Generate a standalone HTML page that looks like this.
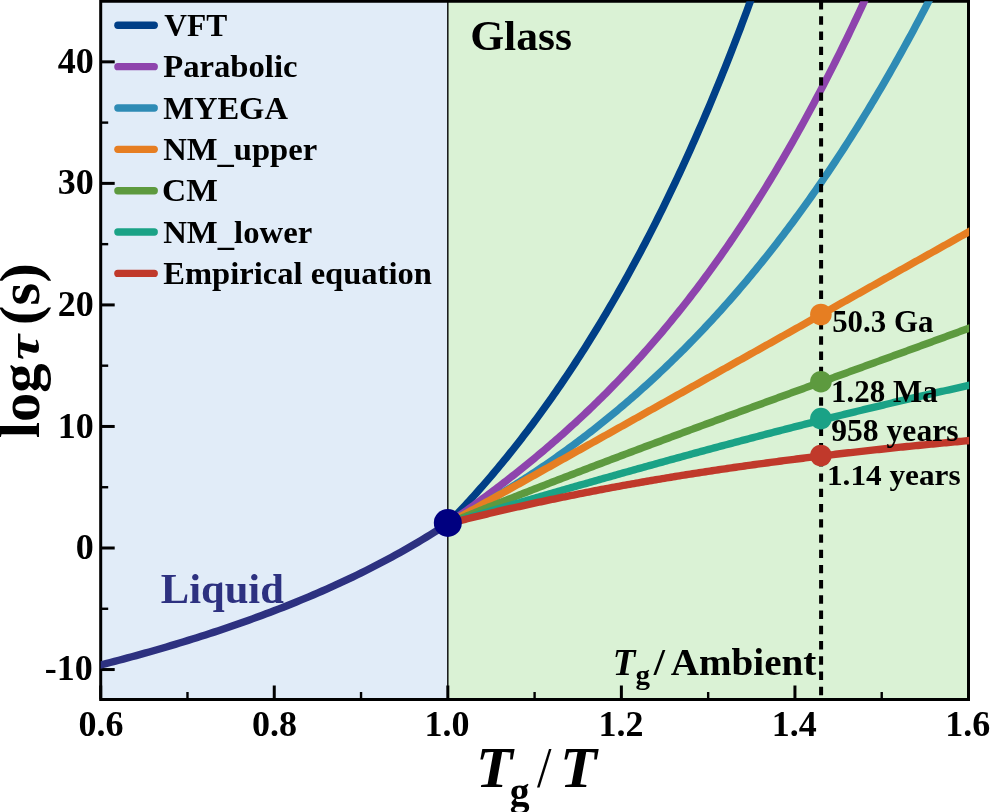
<!DOCTYPE html>
<html><head><meta charset="utf-8"><title>Relaxation time vs Tg/T</title>
<style>
html,body{margin:0;padding:0;background:#fff;}
body{width:990px;height:812px;overflow:hidden;}
svg{display:block;}
text{font-family:"Liberation Serif","DejaVu Serif",serif;font-weight:bold;}
</style></head><body>
<svg width="990" height="812" viewBox="0 0 990 812">
<defs><clipPath id="ax"><rect x="100.70" y="1.25" width="868.50" height="698.25"/></clipPath></defs>
<rect x="0" y="0" width="990" height="812" fill="#fff"/>
<rect x="100.70" y="1.25" width="347.12" height="698.25" fill="#e1ecf8"/>
<rect x="447.82" y="1.25" width="520.68" height="698.25" fill="#daf2d5"/>
<rect x="100.70" y="1.25" width="867.80" height="698.25" fill="none" stroke="#000" stroke-width="3"/>
<line x1="100.70" y1="699.50" x2="100.70" y2="685.50" stroke="#000" stroke-width="3"/>
<line x1="274.26" y1="699.50" x2="274.26" y2="685.50" stroke="#000" stroke-width="3"/>
<line x1="447.82" y1="699.50" x2="447.82" y2="685.50" stroke="#000" stroke-width="3"/>
<line x1="621.38" y1="699.50" x2="621.38" y2="685.50" stroke="#000" stroke-width="3"/>
<line x1="794.94" y1="699.50" x2="794.94" y2="685.50" stroke="#000" stroke-width="3"/>
<line x1="968.50" y1="699.50" x2="968.50" y2="685.50" stroke="#000" stroke-width="3"/>
<line x1="187.48" y1="699.50" x2="187.48" y2="692.00" stroke="#000" stroke-width="2.4"/>
<line x1="361.04" y1="699.50" x2="361.04" y2="692.00" stroke="#000" stroke-width="2.4"/>
<line x1="534.60" y1="699.50" x2="534.60" y2="692.00" stroke="#000" stroke-width="2.4"/>
<line x1="708.16" y1="699.50" x2="708.16" y2="692.00" stroke="#000" stroke-width="2.4"/>
<line x1="881.72" y1="699.50" x2="881.72" y2="692.00" stroke="#000" stroke-width="2.4"/>
<line x1="100.70" y1="669.54" x2="114.70" y2="669.54" stroke="#000" stroke-width="3"/>
<line x1="100.70" y1="548.00" x2="114.70" y2="548.00" stroke="#000" stroke-width="3"/>
<line x1="100.70" y1="426.46" x2="114.70" y2="426.46" stroke="#000" stroke-width="3"/>
<line x1="100.70" y1="304.92" x2="114.70" y2="304.92" stroke="#000" stroke-width="3"/>
<line x1="100.70" y1="183.38" x2="114.70" y2="183.38" stroke="#000" stroke-width="3"/>
<line x1="100.70" y1="61.84" x2="114.70" y2="61.84" stroke="#000" stroke-width="3"/>
<line x1="100.70" y1="608.77" x2="108.20" y2="608.77" stroke="#000" stroke-width="2.4"/>
<line x1="100.70" y1="487.23" x2="108.20" y2="487.23" stroke="#000" stroke-width="2.4"/>
<line x1="100.70" y1="365.69" x2="108.20" y2="365.69" stroke="#000" stroke-width="2.4"/>
<line x1="100.70" y1="244.15" x2="108.20" y2="244.15" stroke="#000" stroke-width="2.4"/>
<line x1="100.70" y1="122.61" x2="108.20" y2="122.61" stroke="#000" stroke-width="2.4"/>
<line x1="447.82" y1="1.25" x2="447.82" y2="699.50" stroke="#000" stroke-width="1.4"/>
<g clip-path="url(#ax)" fill="none" stroke-width="7.40" stroke-linejoin="round">
<path d="M97.23,665.86 L101.56,664.76 L105.89,663.65 L110.21,662.53 L114.54,661.40 L118.87,660.25 L123.20,659.10 L127.53,657.94 L131.86,656.76 L136.18,655.57 L140.51,654.38 L144.84,653.17 L149.17,651.95 L153.50,650.71 L157.82,649.47 L162.15,648.21 L166.48,646.94 L170.81,645.66 L175.14,644.37 L179.47,643.06 L183.79,641.74 L188.12,640.40 L192.45,639.06 L196.78,637.69 L201.11,636.32 L205.44,634.93 L209.76,633.53 L214.09,632.11 L218.42,630.67 L222.75,629.22 L227.08,627.76 L231.41,626.28 L235.73,624.78 L240.06,623.27 L244.39,621.74 L248.72,620.20 L253.05,618.63 L257.38,617.05 L261.70,615.45 L266.03,613.84 L270.36,612.20 L274.69,610.55 L279.02,608.87 L283.35,607.18 L287.67,605.47 L292.00,603.73 L296.33,601.98 L300.66,600.20 L304.99,598.41 L309.31,596.59 L313.64,594.75 L317.97,592.88 L322.30,590.99 L326.63,589.08 L330.96,587.15 L335.28,585.19 L339.61,583.20 L343.94,581.19 L348.27,579.15 L352.60,577.08 L356.93,574.99 L361.25,572.86 L365.58,570.71 L369.91,568.53 L374.24,566.32 L378.57,564.08 L382.90,561.81 L387.22,559.51 L391.55,557.18 L395.88,554.81 L400.21,552.41 L404.54,549.98 L408.87,547.51 L413.19,545.01 L417.52,542.47 L421.85,539.90 L426.18,537.29 L430.51,534.65 L434.84,531.96 L439.16,529.25 L443.49,526.49 L447.82,523.69" stroke="#2d3180"/>
<path d="M447.82,523.69 L449.99,521.46 L452.15,519.21 L454.32,516.95 L456.48,514.67 L458.65,512.38 L460.82,510.07 L462.98,507.74 L465.15,505.40 L467.31,503.05 L469.48,500.68 L471.65,498.29 L473.81,495.88 L475.98,493.46 L478.14,491.03 L480.31,488.57 L482.47,486.10 L484.64,483.61 L486.81,481.11 L488.97,478.59 L491.14,476.05 L493.30,473.50 L495.47,470.92 L497.64,468.33 L499.80,465.73 L501.97,463.10 L504.13,460.46 L506.30,457.80 L508.47,455.12 L510.63,452.42 L512.80,449.71 L514.96,446.97 L517.13,444.22 L519.30,441.45 L521.46,438.66 L523.63,435.85 L525.79,433.02 L527.96,430.18 L530.12,427.31 L532.29,424.42 L534.46,421.52 L536.62,418.59 L538.79,415.65 L540.95,412.68 L543.12,409.69 L545.29,406.69 L547.45,403.66 L549.62,400.61 L551.78,397.54 L553.95,394.45 L556.12,391.34 L558.28,388.21 L560.45,385.06 L562.61,381.88 L564.78,378.69 L566.95,375.47 L569.11,372.23 L571.28,368.96 L573.44,365.68 L575.61,362.37 L577.77,359.04 L579.94,355.68 L582.11,352.31 L584.27,348.91 L586.44,345.48 L588.60,342.03 L590.77,338.56 L592.94,335.07 L595.10,331.55 L597.27,328.00 L599.43,324.43 L601.60,320.84 L603.77,317.22 L605.93,313.58 L608.10,309.91 L610.26,306.21 L612.43,302.49 L614.60,298.74 L616.76,294.97 L618.93,291.17 L621.09,287.34 L623.26,283.49 L625.42,279.61 L627.59,275.70 L629.76,271.77 L631.92,267.80 L634.09,263.81 L636.25,259.80 L638.42,255.75 L640.59,251.67 L642.75,247.57 L644.92,243.43 L647.08,239.27 L649.25,235.08 L651.42,230.85 L653.58,226.60 L655.75,222.32 L657.91,218.00 L660.08,213.66 L662.25,209.28 L664.41,204.88 L666.58,200.44 L668.74,195.97 L670.91,191.46 L673.08,186.93 L675.24,182.36 L677.41,177.76 L679.57,173.12 L681.74,168.46 L683.90,163.75 L686.07,159.02 L688.24,154.25 L690.40,149.44 L692.57,144.60 L694.73,139.72 L696.90,134.81 L699.07,129.86 L701.23,124.88 L703.40,119.86 L705.56,114.80 L707.73,109.71 L709.90,104.57 L712.06,99.40 L714.23,94.19 L716.39,88.95 L718.56,83.66 L720.73,78.33 L722.89,72.97 L725.06,67.56 L727.22,62.11 L729.39,56.62 L731.55,51.10 L733.72,45.52 L735.89,39.91 L738.05,34.26 L740.22,28.56 L742.38,22.82 L744.55,17.03 L746.72,11.20 L748.88,5.33 L751.05,-0.59 L753.21,-6.55 L755.38,-12.56 L757.55,-18.62 L759.71,-24.72 L761.88,-30.87 L764.04,-37.06 L766.21,-43.31 L768.38,-49.60 L770.54,-55.94 L772.71,-62.34 L774.87,-68.78 L777.04,-75.27 L779.20,-81.81 L781.37,-88.41 L783.54,-95.05 L785.70,-101.75 L787.87,-108.50 L790.03,-115.31 L792.20,-122.17 L794.37,-129.08 L796.53,-136.05 L798.70,-143.08 L800.86,-150.16 L803.03,-157.30 L805.20,-164.49 L807.36,-171.74 L809.53,-179.06 L811.69,-186.43 L813.86,-193.86 L816.03,-201.35 L818.19,-208.91 L820.36,-216.52 L822.52,-224.20 L824.69,-231.94 L826.85,-239.74 L829.02,-247.61 L831.19,-255.55 L833.35,-263.55 L835.52,-271.62 L837.68,-279.75 L839.85,-287.95 L842.02,-296.22 L844.18,-304.56 L846.35,-312.98 L848.51,-321.46 L850.68,-330.01 L852.85,-338.64 L855.01,-347.34 L857.18,-356.12 L859.34,-364.97 L861.51,-373.90 L863.68,-382.90 L865.84,-391.98 L868.01,-401.14 L870.17,-410.38 L872.34,-419.70 L874.51,-429.10 L876.67,-438.59 L878.84,-448.16 L881.00,-457.81 L883.17,-467.55 L885.33,-477.37 L887.50,-487.29 L889.67,-497.29 L891.83,-507.38 L894.00,-517.56 L896.16,-527.83 L898.33,-538.20 L900.50,-548.66 L902.66,-559.21 L904.83,-569.86 L906.99,-580.61 L909.16,-591.46 L911.33,-602.41 L913.49,-613.46 L915.66,-624.61 L917.82,-635.86 L919.99,-647.22 L922.16,-658.69 L924.32,-670.26 L926.49,-681.95 L928.65,-693.74 L930.82,-705.65 L932.98,-717.67 L935.15,-729.80 L937.32,-742.05 L939.48,-754.42 L941.65,-766.91 L943.81,-779.52 L945.98,-792.25 L948.15,-805.11 L950.31,-818.09 L952.48,-831.20 L954.64,-844.44 L956.81,-857.82 L958.98,-871.32 L961.14,-884.96 L963.31,-898.74 L965.47,-912.65 L967.64,-926.71 L969.81,-940.91 L971.97,-955.25" stroke="#003f87"/>
<path d="M447.82,523.69 L449.99,522.18 L452.15,520.66 L454.32,519.13 L456.48,517.61 L458.65,516.07 L460.82,514.53 L462.98,512.99 L465.15,511.44 L467.31,509.88 L469.48,508.32 L471.65,506.76 L473.81,505.19 L475.98,503.61 L478.14,502.02 L480.31,500.43 L482.47,498.84 L484.64,497.23 L486.81,495.62 L488.97,494.01 L491.14,492.38 L493.30,490.75 L495.47,489.12 L497.64,487.47 L499.80,485.82 L501.97,484.16 L504.13,482.49 L506.30,480.82 L508.47,479.14 L510.63,477.45 L512.80,475.75 L514.96,474.04 L517.13,472.33 L519.30,470.60 L521.46,468.87 L523.63,467.13 L525.79,465.38 L527.96,463.62 L530.12,461.85 L532.29,460.08 L534.46,458.29 L536.62,456.49 L538.79,454.69 L540.95,452.87 L543.12,451.05 L545.29,449.21 L547.45,447.37 L549.62,445.51 L551.78,443.65 L553.95,441.77 L556.12,439.88 L558.28,437.98 L560.45,436.08 L562.61,434.16 L564.78,432.22 L566.95,430.28 L569.11,428.33 L571.28,426.36 L573.44,424.39 L575.61,422.40 L577.77,420.40 L579.94,418.39 L582.11,416.36 L584.27,414.33 L586.44,412.28 L588.60,410.21 L590.77,408.14 L592.94,406.05 L595.10,403.95 L597.27,401.84 L599.43,399.71 L601.60,397.58 L603.77,395.42 L605.93,393.26 L608.10,391.08 L610.26,388.88 L612.43,386.68 L614.60,384.45 L616.76,382.22 L618.93,379.97 L621.09,377.70 L623.26,375.43 L625.42,373.13 L627.59,370.82 L629.76,368.50 L631.92,366.16 L634.09,363.81 L636.25,361.44 L638.42,359.06 L640.59,356.66 L642.75,354.24 L644.92,351.81 L647.08,349.36 L649.25,346.90 L651.42,344.42 L653.58,341.92 L655.75,339.41 L657.91,336.88 L660.08,334.34 L662.25,331.78 L664.41,329.20 L666.58,326.60 L668.74,323.99 L670.91,321.36 L673.08,318.71 L675.24,316.04 L677.41,313.36 L679.57,310.66 L681.74,307.94 L683.90,305.20 L686.07,302.45 L688.24,299.68 L690.40,296.88 L692.57,294.07 L694.73,291.25 L696.90,288.40 L699.07,285.53 L701.23,282.64 L703.40,279.74 L705.56,276.82 L707.73,273.87 L709.90,270.91 L712.06,267.92 L714.23,264.92 L716.39,261.90 L718.56,258.86 L720.73,255.79 L722.89,252.71 L725.06,249.61 L727.22,246.48 L729.39,243.34 L731.55,240.17 L733.72,236.98 L735.89,233.77 L738.05,230.55 L740.22,227.29 L742.38,224.02 L744.55,220.73 L746.72,217.41 L748.88,214.08 L751.05,210.72 L753.21,207.34 L755.38,203.93 L757.55,200.51 L759.71,197.06 L761.88,193.59 L764.04,190.09 L766.21,186.58 L768.38,183.04 L770.54,179.48 L772.71,175.89 L774.87,172.28 L777.04,168.65 L779.20,164.99 L781.37,161.31 L783.54,157.61 L785.70,153.88 L787.87,150.13 L790.03,146.35 L792.20,142.55 L794.37,138.73 L796.53,134.88 L798.70,131.00 L800.86,127.10 L803.03,123.18 L805.20,119.23 L807.36,115.26 L809.53,111.26 L811.69,107.23 L813.86,103.18 L816.03,99.10 L818.19,95.00 L820.36,90.87 L822.52,86.72 L824.69,82.54 L826.85,78.33 L829.02,74.10 L831.19,69.84 L833.35,65.55 L835.52,61.23 L837.68,56.89 L839.85,52.53 L842.02,48.13 L844.18,43.71 L846.35,39.26 L848.51,34.78 L850.68,30.27 L852.85,25.74 L855.01,21.18 L857.18,16.59 L859.34,11.97 L861.51,7.32 L863.68,2.65 L865.84,-2.05 L868.01,-6.79 L870.17,-11.55 L872.34,-16.34 L874.51,-21.16 L876.67,-26.01 L878.84,-30.88 L881.00,-35.79 L883.17,-40.73 L885.33,-45.70 L887.50,-50.69 L889.67,-55.72 L891.83,-60.78 L894.00,-65.86 L896.16,-70.98 L898.33,-76.13 L900.50,-81.31 L902.66,-86.52 L904.83,-91.76 L906.99,-97.03 L909.16,-102.33 L911.33,-107.67 L913.49,-113.03 L915.66,-118.43 L917.82,-123.86 L919.99,-129.32 L922.16,-134.81 L924.32,-140.34 L926.49,-145.89 L928.65,-151.48 L930.82,-157.10 L932.98,-162.76 L935.15,-168.44 L937.32,-174.16 L939.48,-179.92 L941.65,-185.70 L943.81,-191.52 L945.98,-197.37 L948.15,-203.26 L950.31,-209.18 L952.48,-215.13 L954.64,-221.11 L956.81,-227.13 L958.98,-233.19 L961.14,-239.28 L963.31,-245.40 L965.47,-251.56 L967.64,-257.75 L969.81,-263.98 L971.97,-270.24" stroke="#8e44ad"/>
<path d="M447.82,523.31 L449.99,522.18 L452.15,521.05 L454.32,519.90 L456.48,518.75 L458.65,517.59 L460.82,516.43 L462.98,515.25 L465.15,514.07 L467.31,512.89 L469.48,511.69 L471.65,510.49 L473.81,509.28 L475.98,508.06 L478.14,506.84 L480.31,505.61 L482.47,504.37 L484.64,503.12 L486.81,501.87 L488.97,500.60 L491.14,499.33 L493.30,498.06 L495.47,496.77 L497.64,495.48 L499.80,494.18 L501.97,492.87 L504.13,491.55 L506.30,490.22 L508.47,488.89 L510.63,487.55 L512.80,486.20 L514.96,484.84 L517.13,483.47 L519.30,482.10 L521.46,480.72 L523.63,479.33 L525.79,477.93 L527.96,476.52 L530.12,475.10 L532.29,473.68 L534.46,472.24 L536.62,470.80 L538.79,469.35 L540.95,467.89 L543.12,466.42 L545.29,464.94 L547.45,463.45 L549.62,461.96 L551.78,460.45 L553.95,458.94 L556.12,457.41 L558.28,455.88 L560.45,454.34 L562.61,452.79 L564.78,451.23 L566.95,449.66 L569.11,448.08 L571.28,446.49 L573.44,444.89 L575.61,443.28 L577.77,441.66 L579.94,440.03 L582.11,438.40 L584.27,436.75 L586.44,435.09 L588.60,433.42 L590.77,431.75 L592.94,430.06 L595.10,428.36 L597.27,426.65 L599.43,424.93 L601.60,423.21 L603.77,421.47 L605.93,419.72 L608.10,417.96 L610.26,416.19 L612.43,414.41 L614.60,412.61 L616.76,410.81 L618.93,409.00 L621.09,407.17 L623.26,405.34 L625.42,403.49 L627.59,401.64 L629.76,399.77 L631.92,397.89 L634.09,396.00 L636.25,394.10 L638.42,392.18 L640.59,390.26 L642.75,388.32 L644.92,386.38 L647.08,384.42 L649.25,382.45 L651.42,380.46 L653.58,378.47 L655.75,376.46 L657.91,374.44 L660.08,372.41 L662.25,370.37 L664.41,368.32 L666.58,366.25 L668.74,364.17 L670.91,362.08 L673.08,359.97 L675.24,357.86 L677.41,355.73 L679.57,353.59 L681.74,351.43 L683.90,349.27 L686.07,347.09 L688.24,344.89 L690.40,342.69 L692.57,340.47 L694.73,338.24 L696.90,335.99 L699.07,333.73 L701.23,331.46 L703.40,329.18 L705.56,326.88 L707.73,324.56 L709.90,322.24 L712.06,319.90 L714.23,317.55 L716.39,315.18 L718.56,312.80 L720.73,310.40 L722.89,307.99 L725.06,305.57 L727.22,303.13 L729.39,300.68 L731.55,298.21 L733.72,295.73 L735.89,293.23 L738.05,290.72 L740.22,288.19 L742.38,285.65 L744.55,283.10 L746.72,280.53 L748.88,277.94 L751.05,275.34 L753.21,272.73 L755.38,270.09 L757.55,267.45 L759.71,264.79 L761.88,262.11 L764.04,259.41 L766.21,256.70 L768.38,253.98 L770.54,251.24 L772.71,248.48 L774.87,245.71 L777.04,242.92 L779.20,240.11 L781.37,237.29 L783.54,234.45 L785.70,231.59 L787.87,228.72 L790.03,225.83 L792.20,222.93 L794.37,220.00 L796.53,217.06 L798.70,214.11 L800.86,211.13 L803.03,208.14 L805.20,205.13 L807.36,202.10 L809.53,199.06 L811.69,196.00 L813.86,192.92 L816.03,189.82 L818.19,186.70 L820.36,183.57 L822.52,180.42 L824.69,177.25 L826.85,174.06 L829.02,170.85 L831.19,167.62 L833.35,164.38 L835.52,161.11 L837.68,157.83 L839.85,154.53 L842.02,151.21 L844.18,147.87 L846.35,144.51 L848.51,141.13 L850.68,137.73 L852.85,134.31 L855.01,130.87 L857.18,127.41 L859.34,123.93 L861.51,120.44 L863.68,116.92 L865.84,113.38 L868.01,109.82 L870.17,106.24 L872.34,102.64 L874.51,99.02 L876.67,95.37 L878.84,91.71 L881.00,88.02 L883.17,84.32 L885.33,80.59 L887.50,76.84 L889.67,73.07 L891.83,69.28 L894.00,65.46 L896.16,61.63 L898.33,57.77 L900.50,53.89 L902.66,49.98 L904.83,46.06 L906.99,42.11 L909.16,38.14 L911.33,34.14 L913.49,30.13 L915.66,26.09 L917.82,22.02 L919.99,17.94 L922.16,13.83 L924.32,9.69 L926.49,5.54 L928.65,1.35 L930.82,-2.85 L932.98,-7.08 L935.15,-11.33 L937.32,-15.61 L939.48,-19.92 L941.65,-24.24 L943.81,-28.60 L945.98,-32.97 L948.15,-37.38 L950.31,-41.80 L952.48,-46.26 L954.64,-50.73 L956.81,-55.24 L958.98,-59.77 L961.14,-64.32 L963.31,-68.91 L965.47,-73.51 L967.64,-78.15 L969.81,-82.81 L971.97,-87.50" stroke="#2e8bb5"/>
<path d="M447.82,523.69 L449.99,522.48 L452.15,521.27 L454.32,520.05 L456.48,518.84 L458.65,517.63 L460.82,516.41 L462.98,515.20 L465.15,513.98 L467.31,512.77 L469.48,511.56 L471.65,510.34 L473.81,509.13 L475.98,507.92 L478.14,506.70 L480.31,505.49 L482.47,504.28 L484.64,503.06 L486.81,501.85 L488.97,500.64 L491.14,499.42 L493.30,498.21 L495.47,497.00 L497.64,495.78 L499.80,494.57 L501.97,493.36 L504.13,492.14 L506.30,490.93 L508.47,489.72 L510.63,488.50 L512.80,487.29 L514.96,486.08 L517.13,484.86 L519.30,483.65 L521.46,482.44 L523.63,481.22 L525.79,480.01 L527.96,478.80 L530.12,477.58 L532.29,476.37 L534.46,475.16 L536.62,473.94 L538.79,472.73 L540.95,471.52 L543.12,470.30 L545.29,469.09 L547.45,467.88 L549.62,466.66 L551.78,465.45 L553.95,464.24 L556.12,463.02 L558.28,461.81 L560.45,460.60 L562.61,459.38 L564.78,458.17 L566.95,456.96 L569.11,455.74 L571.28,454.53 L573.44,453.32 L575.61,452.10 L577.77,450.89 L579.94,449.68 L582.11,448.46 L584.27,447.25 L586.44,446.03 L588.60,444.82 L590.77,443.61 L592.94,442.39 L595.10,441.18 L597.27,439.97 L599.43,438.75 L601.60,437.54 L603.77,436.33 L605.93,435.11 L608.10,433.90 L610.26,432.69 L612.43,431.47 L614.60,430.26 L616.76,429.05 L618.93,427.83 L621.09,426.62 L623.26,425.41 L625.42,424.19 L627.59,422.98 L629.76,421.77 L631.92,420.55 L634.09,419.34 L636.25,418.13 L638.42,416.91 L640.59,415.70 L642.75,414.49 L644.92,413.27 L647.08,412.06 L649.25,410.85 L651.42,409.63 L653.58,408.42 L655.75,407.21 L657.91,405.99 L660.08,404.78 L662.25,403.57 L664.41,402.35 L666.58,401.14 L668.74,399.93 L670.91,398.71 L673.08,397.50 L675.24,396.29 L677.41,395.07 L679.57,393.86 L681.74,392.65 L683.90,391.43 L686.07,390.22 L688.24,389.01 L690.40,387.79 L692.57,386.58 L694.73,385.37 L696.90,384.15 L699.07,382.94 L701.23,381.73 L703.40,380.51 L705.56,379.30 L707.73,378.09 L709.90,376.87 L712.06,375.66 L714.23,374.44 L716.39,373.23 L718.56,372.02 L720.73,370.80 L722.89,369.59 L725.06,368.38 L727.22,367.16 L729.39,365.95 L731.55,364.74 L733.72,363.52 L735.89,362.31 L738.05,361.10 L740.22,359.88 L742.38,358.67 L744.55,357.46 L746.72,356.24 L748.88,355.03 L751.05,353.82 L753.21,352.60 L755.38,351.39 L757.55,350.18 L759.71,348.96 L761.88,347.75 L764.04,346.54 L766.21,345.32 L768.38,344.11 L770.54,342.90 L772.71,341.68 L774.87,340.47 L777.04,339.26 L779.20,338.04 L781.37,336.83 L783.54,335.62 L785.70,334.40 L787.87,333.19 L790.03,331.98 L792.20,330.76 L794.37,329.55 L796.53,328.34 L798.70,327.12 L800.86,325.91 L803.03,324.70 L805.20,323.48 L807.36,322.27 L809.53,321.06 L811.69,319.84 L813.86,318.63 L816.03,317.42 L818.19,316.20 L820.36,314.99 L822.52,313.78 L824.69,312.56 L826.85,311.35 L829.02,310.14 L831.19,308.92 L833.35,307.71 L835.52,306.49 L837.68,305.28 L839.85,304.07 L842.02,302.85 L844.18,301.64 L846.35,300.43 L848.51,299.21 L850.68,298.00 L852.85,296.79 L855.01,295.57 L857.18,294.36 L859.34,293.15 L861.51,291.93 L863.68,290.72 L865.84,289.51 L868.01,288.29 L870.17,287.08 L872.34,285.87 L874.51,284.65 L876.67,283.44 L878.84,282.23 L881.00,281.01 L883.17,279.80 L885.33,278.59 L887.50,277.37 L889.67,276.16 L891.83,274.95 L894.00,273.73 L896.16,272.52 L898.33,271.31 L900.50,270.09 L902.66,268.88 L904.83,267.67 L906.99,266.45 L909.16,265.24 L911.33,264.03 L913.49,262.81 L915.66,261.60 L917.82,260.39 L919.99,259.17 L922.16,257.96 L924.32,256.75 L926.49,255.53 L928.65,254.32 L930.82,253.11 L932.98,251.89 L935.15,250.68 L937.32,249.47 L939.48,248.25 L941.65,247.04 L943.81,245.83 L945.98,244.61 L948.15,243.40 L950.31,242.19 L952.48,240.97 L954.64,239.76 L956.81,238.55 L958.98,237.33 L961.14,236.12 L963.31,234.90 L965.47,233.69 L967.64,232.48 L969.81,231.26 L971.97,230.05" stroke="#e67e22"/>
<path d="M447.82,523.69 L449.99,522.81 L452.15,521.92 L454.32,521.04 L456.48,520.16 L458.65,519.28 L460.82,518.40 L462.98,517.52 L465.15,516.64 L467.31,515.76 L469.48,514.89 L471.65,514.01 L473.81,513.14 L475.98,512.27 L478.14,511.40 L480.31,510.52 L482.47,509.66 L484.64,508.79 L486.81,507.92 L488.97,507.05 L491.14,506.19 L493.30,505.32 L495.47,504.46 L497.64,503.60 L499.80,502.73 L501.97,501.87 L504.13,501.01 L506.30,500.15 L508.47,499.30 L510.63,498.44 L512.80,497.58 L514.96,496.73 L517.13,495.87 L519.30,495.02 L521.46,494.17 L523.63,493.31 L525.79,492.46 L527.96,491.61 L530.12,490.76 L532.29,489.91 L534.46,489.07 L536.62,488.22 L538.79,487.37 L540.95,486.53 L543.12,485.69 L545.29,484.84 L547.45,484.00 L549.62,483.16 L551.78,482.32 L553.95,481.48 L556.12,480.64 L558.28,479.80 L560.45,478.96 L562.61,478.12 L564.78,477.29 L566.95,476.45 L569.11,475.62 L571.28,474.78 L573.44,473.95 L575.61,473.12 L577.77,472.29 L579.94,471.46 L582.11,470.63 L584.27,469.80 L586.44,468.97 L588.60,468.14 L590.77,467.31 L592.94,466.48 L595.10,465.66 L597.27,464.83 L599.43,464.01 L601.60,463.18 L603.77,462.36 L605.93,461.54 L608.10,460.72 L610.26,459.90 L612.43,459.07 L614.60,458.25 L616.76,457.43 L618.93,456.62 L621.09,455.80 L623.26,454.98 L625.42,454.16 L627.59,453.35 L629.76,452.53 L631.92,451.72 L634.09,450.90 L636.25,450.09 L638.42,449.27 L640.59,448.46 L642.75,447.65 L644.92,446.84 L647.08,446.02 L649.25,445.21 L651.42,444.40 L653.58,443.59 L655.75,442.78 L657.91,441.98 L660.08,441.17 L662.25,440.36 L664.41,439.55 L666.58,438.75 L668.74,437.94 L670.91,437.13 L673.08,436.33 L675.24,435.52 L677.41,434.72 L679.57,433.92 L681.74,433.11 L683.90,432.31 L686.07,431.51 L688.24,430.70 L690.40,429.90 L692.57,429.10 L694.73,428.30 L696.90,427.50 L699.07,426.70 L701.23,425.90 L703.40,425.10 L705.56,424.30 L707.73,423.50 L709.90,422.71 L712.06,421.91 L714.23,421.11 L716.39,420.31 L718.56,419.52 L720.73,418.72 L722.89,417.92 L725.06,417.13 L727.22,416.33 L729.39,415.54 L731.55,414.74 L733.72,413.95 L735.89,413.16 L738.05,412.36 L740.22,411.57 L742.38,410.77 L744.55,409.98 L746.72,409.19 L748.88,408.40 L751.05,407.60 L753.21,406.81 L755.38,406.02 L757.55,405.23 L759.71,404.44 L761.88,403.65 L764.04,402.86 L766.21,402.07 L768.38,401.28 L770.54,400.49 L772.71,399.70 L774.87,398.91 L777.04,398.12 L779.20,397.33 L781.37,396.54 L783.54,395.75 L785.70,394.96 L787.87,394.17 L790.03,393.38 L792.20,392.60 L794.37,391.81 L796.53,391.02 L798.70,390.23 L800.86,389.44 L803.03,388.66 L805.20,387.87 L807.36,387.08 L809.53,386.29 L811.69,385.51 L813.86,384.72 L816.03,383.93 L818.19,383.14 L820.36,382.36 L822.52,381.57 L824.69,380.78 L826.85,380.00 L829.02,379.21 L831.19,378.42 L833.35,377.64 L835.52,376.85 L837.68,376.06 L839.85,375.28 L842.02,374.49 L844.18,373.70 L846.35,372.92 L848.51,372.13 L850.68,371.34 L852.85,370.56 L855.01,369.77 L857.18,368.98 L859.34,368.20 L861.51,367.41 L863.68,366.62 L865.84,365.84 L868.01,365.05 L870.17,364.26 L872.34,363.48 L874.51,362.69 L876.67,361.90 L878.84,361.12 L881.00,360.33 L883.17,359.54 L885.33,358.75 L887.50,357.97 L889.67,357.18 L891.83,356.39 L894.00,355.60 L896.16,354.81 L898.33,354.02 L900.50,353.24 L902.66,352.45 L904.83,351.66 L906.99,350.87 L909.16,350.08 L911.33,349.29 L913.49,348.50 L915.66,347.71 L917.82,346.92 L919.99,346.13 L922.16,345.34 L924.32,344.55 L926.49,343.76 L928.65,342.97 L930.82,342.18 L932.98,341.39 L935.15,340.60 L937.32,339.80 L939.48,339.01 L941.65,338.22 L943.81,337.43 L945.98,336.63 L948.15,335.84 L950.31,335.05 L952.48,334.25 L954.64,333.46 L956.81,332.66 L958.98,331.87 L961.14,331.07 L963.31,330.28 L965.47,329.48 L967.64,328.69 L969.81,327.89 L971.97,327.09" stroke="#5d9a3f"/>
<path d="M447.82,523.69 L449.99,523.05 L452.15,522.41 L454.32,521.77 L456.48,521.13 L458.65,520.49 L460.82,519.84 L462.98,519.20 L465.15,518.56 L467.31,517.92 L469.48,517.29 L471.65,516.65 L473.81,516.01 L475.98,515.37 L478.14,514.73 L480.31,514.09 L482.47,513.46 L484.64,512.82 L486.81,512.18 L488.97,511.55 L491.14,510.91 L493.30,510.28 L495.47,509.64 L497.64,509.01 L499.80,508.37 L501.97,507.74 L504.13,507.10 L506.30,506.47 L508.47,505.84 L510.63,505.20 L512.80,504.57 L514.96,503.94 L517.13,503.31 L519.30,502.68 L521.46,502.05 L523.63,501.42 L525.79,500.79 L527.96,500.16 L530.12,499.53 L532.29,498.90 L534.46,498.27 L536.62,497.64 L538.79,497.02 L540.95,496.39 L543.12,495.76 L545.29,495.14 L547.45,494.51 L549.62,493.89 L551.78,493.26 L553.95,492.64 L556.12,492.01 L558.28,491.39 L560.45,490.77 L562.61,490.14 L564.78,489.52 L566.95,488.90 L569.11,488.28 L571.28,487.66 L573.44,487.04 L575.61,486.42 L577.77,485.80 L579.94,485.18 L582.11,484.56 L584.27,483.95 L586.44,483.33 L588.60,482.71 L590.77,482.10 L592.94,481.48 L595.10,480.87 L597.27,480.25 L599.43,479.64 L601.60,479.02 L603.77,478.41 L605.93,477.80 L608.10,477.19 L610.26,476.58 L612.43,475.96 L614.60,475.35 L616.76,474.74 L618.93,474.14 L621.09,473.53 L623.26,472.92 L625.42,472.31 L627.59,471.70 L629.76,471.10 L631.92,470.49 L634.09,469.89 L636.25,469.28 L638.42,468.68 L640.59,468.08 L642.75,467.47 L644.92,466.87 L647.08,466.27 L649.25,465.67 L651.42,465.07 L653.58,464.47 L655.75,463.87 L657.91,463.27 L660.08,462.67 L662.25,462.07 L664.41,461.48 L666.58,460.88 L668.74,460.29 L670.91,459.69 L673.08,459.10 L675.24,458.50 L677.41,457.91 L679.57,457.32 L681.74,456.73 L683.90,456.13 L686.07,455.54 L688.24,454.95 L690.40,454.37 L692.57,453.78 L694.73,453.19 L696.90,452.60 L699.07,452.02 L701.23,451.43 L703.40,450.85 L705.56,450.26 L707.73,449.68 L709.90,449.10 L712.06,448.51 L714.23,447.93 L716.39,447.35 L718.56,446.77 L720.73,446.19 L722.89,445.61 L725.06,445.04 L727.22,444.46 L729.39,443.88 L731.55,443.31 L733.72,442.73 L735.89,442.16 L738.05,441.58 L740.22,441.01 L742.38,440.44 L744.55,439.87 L746.72,439.30 L748.88,438.73 L751.05,438.16 L753.21,437.59 L755.38,437.02 L757.55,436.46 L759.71,435.89 L761.88,435.32 L764.04,434.76 L766.21,434.20 L768.38,433.63 L770.54,433.07 L772.71,432.51 L774.87,431.95 L777.04,431.39 L779.20,430.83 L781.37,430.27 L783.54,429.72 L785.70,429.16 L787.87,428.61 L790.03,428.05 L792.20,427.50 L794.37,426.94 L796.53,426.39 L798.70,425.84 L800.86,425.29 L803.03,424.74 L805.20,424.19 L807.36,423.64 L809.53,423.10 L811.69,422.55 L813.86,422.01 L816.03,421.46 L818.19,420.92 L820.36,420.37 L822.52,419.83 L824.69,419.29 L826.85,418.75 L829.02,418.21 L831.19,417.67 L833.35,417.14 L835.52,416.60 L837.68,416.06 L839.85,415.53 L842.02,415.00 L844.18,414.46 L846.35,413.93 L848.51,413.40 L850.68,412.87 L852.85,412.34 L855.01,411.81 L857.18,411.28 L859.34,410.76 L861.51,410.23 L863.68,409.71 L865.84,409.18 L868.01,408.66 L870.17,408.14 L872.34,407.62 L874.51,407.10 L876.67,406.58 L878.84,406.06 L881.00,405.55 L883.17,405.03 L885.33,404.51 L887.50,404.00 L889.67,403.49 L891.83,402.98 L894.00,402.46 L896.16,401.95 L898.33,401.44 L900.50,400.94 L902.66,400.43 L904.83,399.92 L906.99,399.42 L909.16,398.91 L911.33,398.41 L913.49,397.91 L915.66,397.41 L917.82,396.91 L919.99,396.41 L922.16,395.91 L924.32,395.41 L926.49,394.92 L928.65,394.42 L930.82,393.93 L932.98,393.44 L935.15,392.95 L937.32,392.46 L939.48,391.97 L941.65,391.48 L943.81,390.99 L945.98,390.50 L948.15,390.02 L950.31,389.53 L952.48,389.05 L954.64,388.57 L956.81,388.09 L958.98,387.61 L961.14,387.13 L963.31,386.65 L965.47,386.18 L967.64,385.70 L969.81,385.23 L971.97,384.75" stroke="#1aa286"/>
<path d="M447.82,523.69 L449.99,523.14 L452.15,522.58 L454.32,522.03 L456.48,521.48 L458.65,520.94 L460.82,520.39 L462.98,519.85 L465.15,519.31 L467.31,518.77 L469.48,518.24 L471.65,517.71 L473.81,517.17 L475.98,516.65 L478.14,516.12 L480.31,515.59 L482.47,515.07 L484.64,514.55 L486.81,514.03 L488.97,513.52 L491.14,513.01 L493.30,512.49 L495.47,511.98 L497.64,511.48 L499.80,510.97 L501.97,510.47 L504.13,509.97 L506.30,509.47 L508.47,508.97 L510.63,508.48 L512.80,507.99 L514.96,507.50 L517.13,507.01 L519.30,506.52 L521.46,506.04 L523.63,505.55 L525.79,505.07 L527.96,504.60 L530.12,504.12 L532.29,503.65 L534.46,503.17 L536.62,502.70 L538.79,502.24 L540.95,501.77 L543.12,501.31 L545.29,500.84 L547.45,500.38 L549.62,499.93 L551.78,499.47 L553.95,499.02 L556.12,498.56 L558.28,498.11 L560.45,497.67 L562.61,497.22 L564.78,496.78 L566.95,496.33 L569.11,495.89 L571.28,495.45 L573.44,495.02 L575.61,494.58 L577.77,494.15 L579.94,493.72 L582.11,493.29 L584.27,492.86 L586.44,492.44 L588.60,492.01 L590.77,491.59 L592.94,491.17 L595.10,490.75 L597.27,490.34 L599.43,489.92 L601.60,489.51 L603.77,489.10 L605.93,488.69 L608.10,488.28 L610.26,487.88 L612.43,487.47 L614.60,487.07 L616.76,486.67 L618.93,486.27 L621.09,485.88 L623.26,485.48 L625.42,485.09 L627.59,484.70 L629.76,484.31 L631.92,483.92 L634.09,483.54 L636.25,483.15 L638.42,482.77 L640.59,482.39 L642.75,482.01 L644.92,481.63 L647.08,481.26 L649.25,480.88 L651.42,480.51 L653.58,480.14 L655.75,479.77 L657.91,479.40 L660.08,479.04 L662.25,478.67 L664.41,478.31 L666.58,477.95 L668.74,477.59 L670.91,477.23 L673.08,476.88 L675.24,476.52 L677.41,476.17 L679.57,475.82 L681.74,475.47 L683.90,475.12 L686.07,474.77 L688.24,474.43 L690.40,474.08 L692.57,473.74 L694.73,473.40 L696.90,473.06 L699.07,472.73 L701.23,472.39 L703.40,472.06 L705.56,471.72 L707.73,471.39 L709.90,471.06 L712.06,470.74 L714.23,470.41 L716.39,470.08 L718.56,469.76 L720.73,469.44 L722.89,469.12 L725.06,468.80 L727.22,468.48 L729.39,468.16 L731.55,467.85 L733.72,467.53 L735.89,467.22 L738.05,466.91 L740.22,466.60 L742.38,466.29 L744.55,465.99 L746.72,465.68 L748.88,465.38 L751.05,465.08 L753.21,464.78 L755.38,464.48 L757.55,464.18 L759.71,463.88 L761.88,463.59 L764.04,463.29 L766.21,463.00 L768.38,462.71 L770.54,462.42 L772.71,462.13 L774.87,461.84 L777.04,461.56 L779.20,461.27 L781.37,460.99 L783.54,460.70 L785.70,460.42 L787.87,460.14 L790.03,459.87 L792.20,459.59 L794.37,459.31 L796.53,459.04 L798.70,458.76 L800.86,458.49 L803.03,458.22 L805.20,457.95 L807.36,457.68 L809.53,457.41 L811.69,457.15 L813.86,456.88 L816.03,456.62 L818.19,456.36 L820.36,456.10 L822.52,455.84 L824.69,455.58 L826.85,455.32 L829.02,455.06 L831.19,454.81 L833.35,454.55 L835.52,454.30 L837.68,454.05 L839.85,453.79 L842.02,453.54 L844.18,453.30 L846.35,453.05 L848.51,452.80 L850.68,452.56 L852.85,452.31 L855.01,452.07 L857.18,451.83 L859.34,451.58 L861.51,451.34 L863.68,451.10 L865.84,450.87 L868.01,450.63 L870.17,450.39 L872.34,450.16 L874.51,449.92 L876.67,449.69 L878.84,449.46 L881.00,449.23 L883.17,449.00 L885.33,448.77 L887.50,448.54 L889.67,448.31 L891.83,448.09 L894.00,447.86 L896.16,447.64 L898.33,447.41 L900.50,447.19 L902.66,446.97 L904.83,446.75 L906.99,446.53 L909.16,446.31 L911.33,446.09 L913.49,445.88 L915.66,445.66 L917.82,445.45 L919.99,445.23 L922.16,445.02 L924.32,444.81 L926.49,444.60 L928.65,444.38 L930.82,444.17 L932.98,443.97 L935.15,443.76 L937.32,443.55 L939.48,443.34 L941.65,443.14 L943.81,442.93 L945.98,442.73 L948.15,442.53 L950.31,442.32 L952.48,442.12 L954.64,441.92 L956.81,441.72 L958.98,441.52 L961.14,441.32 L963.31,441.13 L965.47,440.93 L967.64,440.73 L969.81,440.54 L971.97,440.34" stroke="#c0392b"/>
</g>
<line x1="821.10" y1="1.0" x2="821.10" y2="699.50" stroke="#000" stroke-width="4" stroke-dasharray="8.4 6.84"/>
<circle cx="820.90" cy="314.50" r="10.8" fill="#e67e22"/>
<circle cx="820.90" cy="381.70" r="10.8" fill="#5d9a3f"/>
<circle cx="820.90" cy="418.60" r="10.8" fill="#1aa286"/>
<circle cx="820.90" cy="455.50" r="10.8" fill="#c0392b"/>
<circle cx="447.82" cy="522.89" r="14" fill="#000080"/>
<line x1="117.9" y1="25.30" x2="154.2" y2="25.30" stroke="#003f87" stroke-width="7.4" stroke-linecap="round"/>
<line x1="117.9" y1="66.65" x2="154.2" y2="66.65" stroke="#8e44ad" stroke-width="7.4" stroke-linecap="round"/>
<line x1="117.9" y1="108.00" x2="154.2" y2="108.00" stroke="#2e8bb5" stroke-width="7.4" stroke-linecap="round"/>
<line x1="117.9" y1="149.35" x2="154.2" y2="149.35" stroke="#e67e22" stroke-width="7.4" stroke-linecap="round"/>
<line x1="117.9" y1="190.70" x2="154.2" y2="190.70" stroke="#5d9a3f" stroke-width="7.4" stroke-linecap="round"/>
<line x1="117.9" y1="232.05" x2="154.2" y2="232.05" stroke="#1aa286" stroke-width="7.4" stroke-linecap="round"/>
<line x1="117.9" y1="273.40" x2="154.2" y2="273.40" stroke="#c0392b" stroke-width="7.4" stroke-linecap="round"/>
<text transform="translate(164.20,36.00) scale(0.9844,1)" font-size="32">VFT</text>
<text transform="translate(163.18,77.35) scale(1.0215,1)" font-size="32">Parabolic</text>
<text transform="translate(163.18,118.70) scale(1.0174,1)" font-size="32">MYEGA</text>
<text transform="translate(163.18,160.05) scale(1.0193,1)" font-size="32">NM<tspan dy="3.4">_</tspan><tspan dy="-3.4">upper</tspan></text>
<text transform="translate(162.11,201.40) scale(1.0460,1)" font-size="32">CM</text>
<text transform="translate(163.18,242.75) scale(1.0229,1)" font-size="32">NM<tspan dy="3.4">_</tspan><tspan dy="-3.4">lower</tspan></text>
<text transform="translate(163.18,284.10) scale(1.0183,1)" font-size="32">Empirical equation</text>
<text transform="translate(78.40,736.40) scale(1.0000,1)" font-size="36">0.6</text>
<text transform="translate(251.96,736.40) scale(1.0000,1)" font-size="36">0.8</text>
<text transform="translate(424.52,736.40) scale(1.0000,1)" font-size="36">1.0</text>
<text transform="translate(598.58,736.40) scale(1.0000,1)" font-size="36">1.2</text>
<text transform="translate(771.64,736.40) scale(1.0000,1)" font-size="36">1.4</text>
<text transform="translate(945.20,736.40) scale(1.0000,1)" font-size="36">1.6</text>
<text transform="translate(44.70,679.84) scale(1.0000,1)" font-size="36">-10</text>
<text transform="translate(75.70,559.10) scale(1.0000,1)" font-size="36">0</text>
<text transform="translate(57.70,437.56) scale(1.0000,1)" font-size="36">10</text>
<text transform="translate(57.70,316.02) scale(1.0000,1)" font-size="36">20</text>
<text transform="translate(57.70,194.48) scale(1.0000,1)" font-size="36">30</text>
<text transform="translate(57.70,72.94) scale(1.0000,1)" font-size="36">40</text>
<text transform="translate(470.22,49.50) scale(1.0379,1)" font-size="42">Glass</text>
<text transform="translate(160.79,602.90) scale(1.0133,1)" font-size="42" fill="#2d3180">Liquid</text>
<text transform="translate(832.19,331.70) scale(1.0121,1)" font-size="30.5">50.3 Ga</text>
<text transform="translate(831.07,402.00) scale(1.0146,1)" font-size="30.5">1.28 Ma</text>
<text transform="translate(831.26,441.10) scale(1.0364,1)" font-size="30.5">958 years</text>
<text transform="translate(826.95,484.60) scale(1.0258,1)" font-size="30.5">1.14 years</text>
<text transform="translate(612.83,675.30) scale(0.9905,1)" font-size="37.3"><tspan font-style="italic">T</tspan></text>
<text transform="translate(635.51,684.30) scale(1.0917,1)" font-size="26.6">g</text>
<text transform="translate(653.80,675.30) scale(1.0636,1)" font-size="38">/</text>
<text transform="translate(670.80,675.30) scale(1.0482,1)" font-size="37.3">Ambient</text>
<text transform="translate(476.11,786.90) scale(1.0719,1)" font-size="56"><tspan font-style="italic">T</tspan></text>
<text transform="translate(509.69,805.40) scale(1.0111,1)" font-size="39.2">g</text>
<text transform="translate(537.00,786.90) scale(0.9333,1)" font-size="56"><tspan font-weight="normal">/</tspan></text>
<text transform="translate(559.90,786.90) scale(1.0750,1)" font-size="56"><tspan font-style="italic">T</tspan></text>
<g transform="translate(39.3,437.3) rotate(-90)"><text transform="translate(-1.05,0.00) scale(1.0471,1)" font-size="56">log</text><text transform="translate(76.97,0.00) scale(1.0320,0.82)" font-size="56"><tspan font-style="italic">τ</tspan></text><text transform="translate(112.21,0.00) scale(1.0455,1)" font-size="56">(s)</text></g>
</svg>
</body></html>
